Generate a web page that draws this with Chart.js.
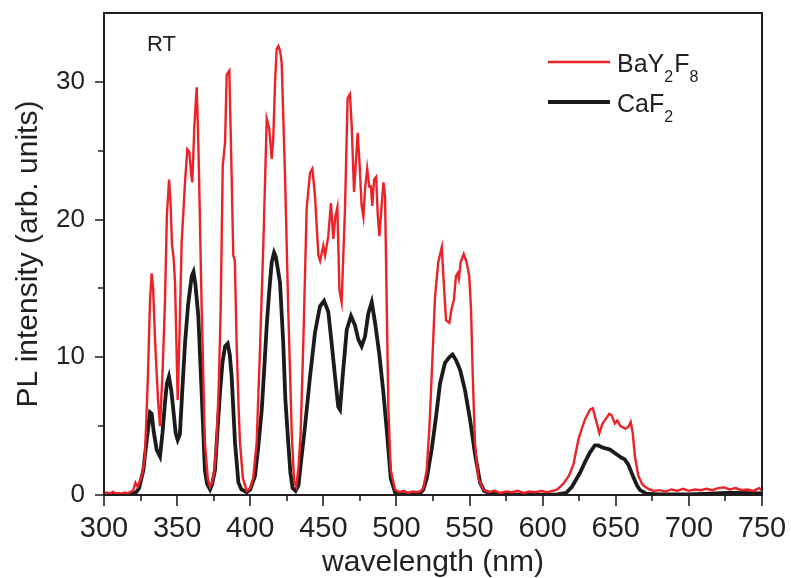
<!DOCTYPE html>
<html>
<head>
<meta charset="utf-8">
<script src="https://cdn.jsdelivr.net/npm/chart.js@4/dist/chart.umd.min.js"></script>
<style>
html, body { margin: 0; padding: 0; background: #fff; }
</style>
</head>
<body>
<canvas id="plChart" width="791" height="578"></canvas>
<script>
// BaY2F8 spectrum (red)
var bayWl = [300,302,304,306,308,310,312,314,316,318,320,321.5,323,324.5,326,328,330,331.5,332.6,333.6,335,337,338.3,340,341.7,343,344.5,345.5,346.5,347.6,348.6,349.5,350.4,351.6,353.1,355.4,357,358.4,359.6,360.4,361.8,363.4,364.2,365,366.8,369,371,372.5,374,375.5,377,378.5,379.8,381.2,382.8,383.9,385.7,386.5,387.3,388.4,389.5,390.7,392,393,395,397.6,400,402,404.4,406.5,409,411.3,413,414.7,415.8,417,418.1,419.3,420.5,421.5,423.8,426,428.4,430,431.5,433,434.5,436.3,438.6,440.9,442.5,444.3,446.6,447.8,449,450,451.2,453.4,455.2,456.8,458.2,459.6,461,462.5,464.8,466.6,468.2,469.4,471,472.1,473.5,474.6,476.2,477.4,478.5,480,481.4,482.5,483.5,484.7,486.1,487.2,488.3,490,491.1,492.2,493.4,494.5,496.1,499,502,505,508,511,514,517,518.4,520.7,522.5,524.1,526.4,528.6,531,532.1,533.9,536.2,537.7,539.3,540.7,541.8,542.7,543.9,546,548,549.8,551,552.2,553.7,556,559.4,563,567,571,575,579,583,587,591,595,599,603,607,610,614,618,621,624.4,627,629,632.4,634.3,636.5,638.8,641,643.7,645.5,647.1,649.4,651,653.2,655,656.6,658.9,660.2,661.6,663.1,665.4,668,670,673,676,680,684,688,692,696,700,704,708,712,716,720,724,728,732,736,740,744,748,750];
var bayVal = [0.12,0.18,0.1,0.22,0.12,0.15,0.1,0.18,0.12,0.2,0.35,0.9,0.6,1.0,1.4,2.8,8.5,14.2,16.1,15.0,11.0,6.8,5.0,8.8,14.0,20.3,22.9,21.2,18.2,17.2,15.4,11.0,6.9,11.5,18.3,22.7,25.1,24.9,23.3,22.7,26.8,29.6,26.8,23.2,13.5,3.8,1.2,0.6,0.9,1.8,3.8,8.0,13.5,23.9,25.6,30.5,30.8,27.0,23.2,17.4,17.0,11.0,6.5,3.8,1.2,0.3,0.5,1.2,3.8,10.0,18.3,27.3,26.6,24.4,26.0,30.0,32.4,32.6,32.2,31.4,23.2,13.5,4.5,1.0,0.6,2.0,4.5,11.0,20.8,23.4,23.7,21.7,17.4,17.0,17.6,18.1,17.4,18.8,21.2,18.6,20.2,20.9,14.9,14.0,20.7,28.8,29.1,26.8,22.0,23.9,26.3,24.4,21.0,20.2,22.2,23.7,22.4,22.4,21.0,22.9,23.1,20.4,18.8,21.2,22.7,21.7,13.5,6.2,1.8,0.4,0.2,0.3,0.15,0.25,0.2,0.3,0.5,1.8,4.8,8.6,14.4,16.9,18.0,15.9,12.7,12.5,13.5,14.2,15.9,16.1,15.7,16.9,17.5,16.9,15.9,13.5,8.6,3.8,1.2,0.4,0.2,0.3,0.15,0.25,0.2,0.3,0.15,0.25,0.2,0.3,0.2,0.3,0.4,0.8,1.4,2.2,4.0,4.9,5.5,6.2,6.3,5.4,4.5,5.2,5.6,5.9,5.8,5.2,5.4,5.0,4.9,4.8,5.0,5.3,4.5,2.8,1.4,0.8,0.6,0.4,0.3,0.35,0.25,0.4,0.3,0.45,0.3,0.4,0.35,0.45,0.35,0.5,0.55,0.4,0.5,0.35,0.4,0.3,0.5,0.35];

// CaF2 spectrum (black)
var cafWl = [300,310,318,322,324,326.9,329,331.5,332.6,334,336,338.3,340,341.7,343,344.4,346,347.4,349,350.4,351.9,353.5,355.4,357.5,360,361.2,362.5,364.5,366.8,369,370.5,372.5,374,375.9,377.5,379.3,381,382.8,384.6,386,387.3,389.6,391.9,394,397.6,400,403.3,405.5,407.9,409.5,411.3,413,414.7,416.3,417.5,419.2,420.4,422.6,424,426,427.5,429,431,433,434.5,437.5,440.9,444.3,447.7,450.5,453.4,455.7,458,460.2,461.4,463.2,466,468.9,471.7,473.9,476.2,478.5,480.8,483.1,485.4,488.3,491.1,493.8,496.1,499,505,512,516,518.4,520.7,524.1,527.1,529.8,533.2,536.1,538.4,540.7,543.5,546.9,550.3,553.7,557.2,560,565,570,590,610,616,620,625.5,629,632.4,635.7,638,641,646,650,654,656,658.6,662,664.5,666.6,671,680,700,715,725,735,750];
var cafVal = [0.02,0.02,0.05,0.2,0.5,1.8,3.8,6.0,5.9,4.6,3.3,2.8,4.5,6.7,8.1,8.6,7.6,6.2,4.5,4.0,4.4,7.5,11.0,13.8,15.9,16.2,15.3,13.0,7.4,1.8,0.8,0.4,0.8,1.8,4.5,7.4,9.6,10.8,11.0,10.2,8.6,3.8,0.9,0.4,0.2,0.4,1.4,3.5,6.2,9.0,12.3,14.8,16.9,17.6,17.3,16.2,15.4,11.0,7.0,3.8,1.6,0.5,0.3,0.7,2.2,5.0,8.6,11.8,13.7,14.1,13.3,11.0,8.6,6.4,6.2,8.6,12.0,13.0,12.3,11.3,10.8,11.5,13.2,14.0,12.5,10.2,7.4,4.2,1.2,0.2,0.05,0.05,0.1,0.4,1.2,3.3,5.7,8.1,9.6,10.0,10.2,9.8,9.1,7.6,5.5,3.0,0.9,0.3,0.1,0.05,0.03,0.05,0.15,0.6,1.6,2.4,3.1,3.6,3.6,3.45,3.3,3.0,2.7,2.6,2.2,1.3,0.7,0.35,0.1,0.05,0.05,0.1,0.15,0.15,0.12];

var xTicks = [300,350,400,450,500,550,600,650,700,750];
var yTicks = [0,10,20,30];
var xMinor = [325,375,425,475,525,575,625,675,725];
var yMinor = [5,15,25];

var redColor = '#ec2229';
var blackColor = '#1b1b1b';
var axisColor = '#231f20';
var fontFam = "'Liberation Sans', Arial, Helvetica, sans-serif";

function toPoints( wl, vals )
{
    return wl.map( function( w, i ) { return { x: w, y: vals[ i ] }; } );
}

// frame, tick marks, axis titles, legend and the RT label
var decor = {
    id: 'decor',
    afterDraw: function( chart ) {
        var ctx = chart.ctx, a = chart.chartArea;
        var xs = chart.scales.x, ys = chart.scales.y;
        ctx.save();
        ctx.strokeStyle = axisColor;
        ctx.lineWidth = 2;
        ctx.strokeRect( a.left, a.top, a.right - a.left, a.bottom - a.top );

        ctx.lineWidth = 1.6;
        ctx.beginPath();
        xTicks.forEach( function( v ) { var p = Math.round( xs.getPixelForValue( v ) ); ctx.moveTo( p, a.bottom ); ctx.lineTo( p, a.bottom + 11 ); } );
        xMinor.forEach( function( v ) { var p = Math.round( xs.getPixelForValue( v ) ); ctx.moveTo( p, a.bottom ); ctx.lineTo( p, a.bottom + 6 ); } );
        yTicks.forEach( function( v ) { var p = Math.round( ys.getPixelForValue( v ) ); ctx.moveTo( a.left, p ); ctx.lineTo( a.left - 9, p ); } );
        yMinor.forEach( function( v ) { var p = Math.round( ys.getPixelForValue( v ) ); ctx.moveTo( a.left, p ); ctx.lineTo( a.left - 6, p ); } );
        ctx.stroke();

        ctx.fillStyle = axisColor;
        ctx.font = '30px ' + fontFam;
        ctx.textAlign = 'center';
        ctx.textBaseline = 'alphabetic';
        ctx.fillText( 'wavelength (nm)', ( a.left + a.right ) / 2, 571 );

        ctx.save();
        ctx.translate( 37, ( a.top + a.bottom ) / 2 );
        ctx.rotate( -Math.PI / 2 );
        ctx.fillText( 'PL intensity (arb. units)', 0, 0 );
        ctx.restore();

        ctx.textAlign = 'left';
        ctx.font = '22px ' + fontFam;
        ctx.fillText( 'RT', 147, 51 );

        drawLegendRow( ctx, redColor, 2.4, 62, [ [ 'BaY', 0 ], [ '2', 1 ], [ 'F', 0 ], [ '8', 1 ] ] );
        drawLegendRow( ctx, blackColor, 3.8, 102, [ [ 'CaF', 0 ], [ '2', 1 ] ] );
        ctx.restore();
    }
};

function drawLegendRow( ctx, color, width, y, parts )
{
    ctx.strokeStyle = color;
    ctx.lineWidth = width;
    ctx.beginPath();
    ctx.moveTo( 548, y );
    ctx.lineTo( 610, y );
    ctx.stroke();
    var x = 617;
    ctx.fillStyle = axisColor;
    parts.forEach( function( p ) {
        ctx.font = ( p[ 1 ] ? '16px ' : '25px ' ) + fontFam;
        ctx.fillText( p[ 0 ], x, y + ( p[ 1 ] ? 20 : 10 ) );
        x += ctx.measureText( p[ 0 ] ).width + ( p[ 1 ] ? 1 : 0 );
    } );
}

function noPad( s )
{
    s.paddingTop = 0; s.paddingBottom = 0; s.paddingLeft = 0; s.paddingRight = 0;
}

var chart = new Chart( document.getElementById( 'plChart' ).getContext( '2d' ), {
    type: 'line',
    data: {
        datasets: [
            { label: 'BaY2F8', data: toPoints( bayWl, bayVal ), borderColor: redColor, borderWidth: 2.4, pointRadius: 0, tension: 0 },
            { label: 'CaF2', data: toPoints( cafWl, cafVal ), borderColor: blackColor, borderWidth: 3.8, pointRadius: 0, tension: 0 }
        ]
    },
    options: {
        responsive: false,
        animation: false,
        events: [],
        layout: { padding: { left: 0, right: 29, top: 13, bottom: 0 } },
        plugins: { legend: { display: false }, tooltip: { enabled: false } },
        scales: {
            x: {
                type: 'linear', min: 300, max: 750,
                grid: { display: false, drawTicks: false },
                border: { display: false },
                afterBuildTicks: function( s ) { s.ticks = xTicks.map( function( v ) { return { value: v }; } ); },
                afterFit: function( s ) { s.height = 83; noPad( s ); },
                ticks: { color: axisColor, font: { family: fontFam, size: 29 }, padding: 17, maxRotation: 0, autoSkip: false }
            },
            y: {
                min: 0, max: 35,
                grid: { display: false, drawTicks: false },
                border: { display: false },
                afterBuildTicks: function( s ) { s.ticks = yTicks.map( function( v ) { return { value: v }; } ); },
                afterFit: function( s ) { s.width = 104; noPad( s ); },
                ticks: { color: axisColor, font: { family: fontFam, size: 26 }, padding: 19 }
            }
        }
    },
    plugins: [ decor ]
} );
</script>
</body>
</html>
